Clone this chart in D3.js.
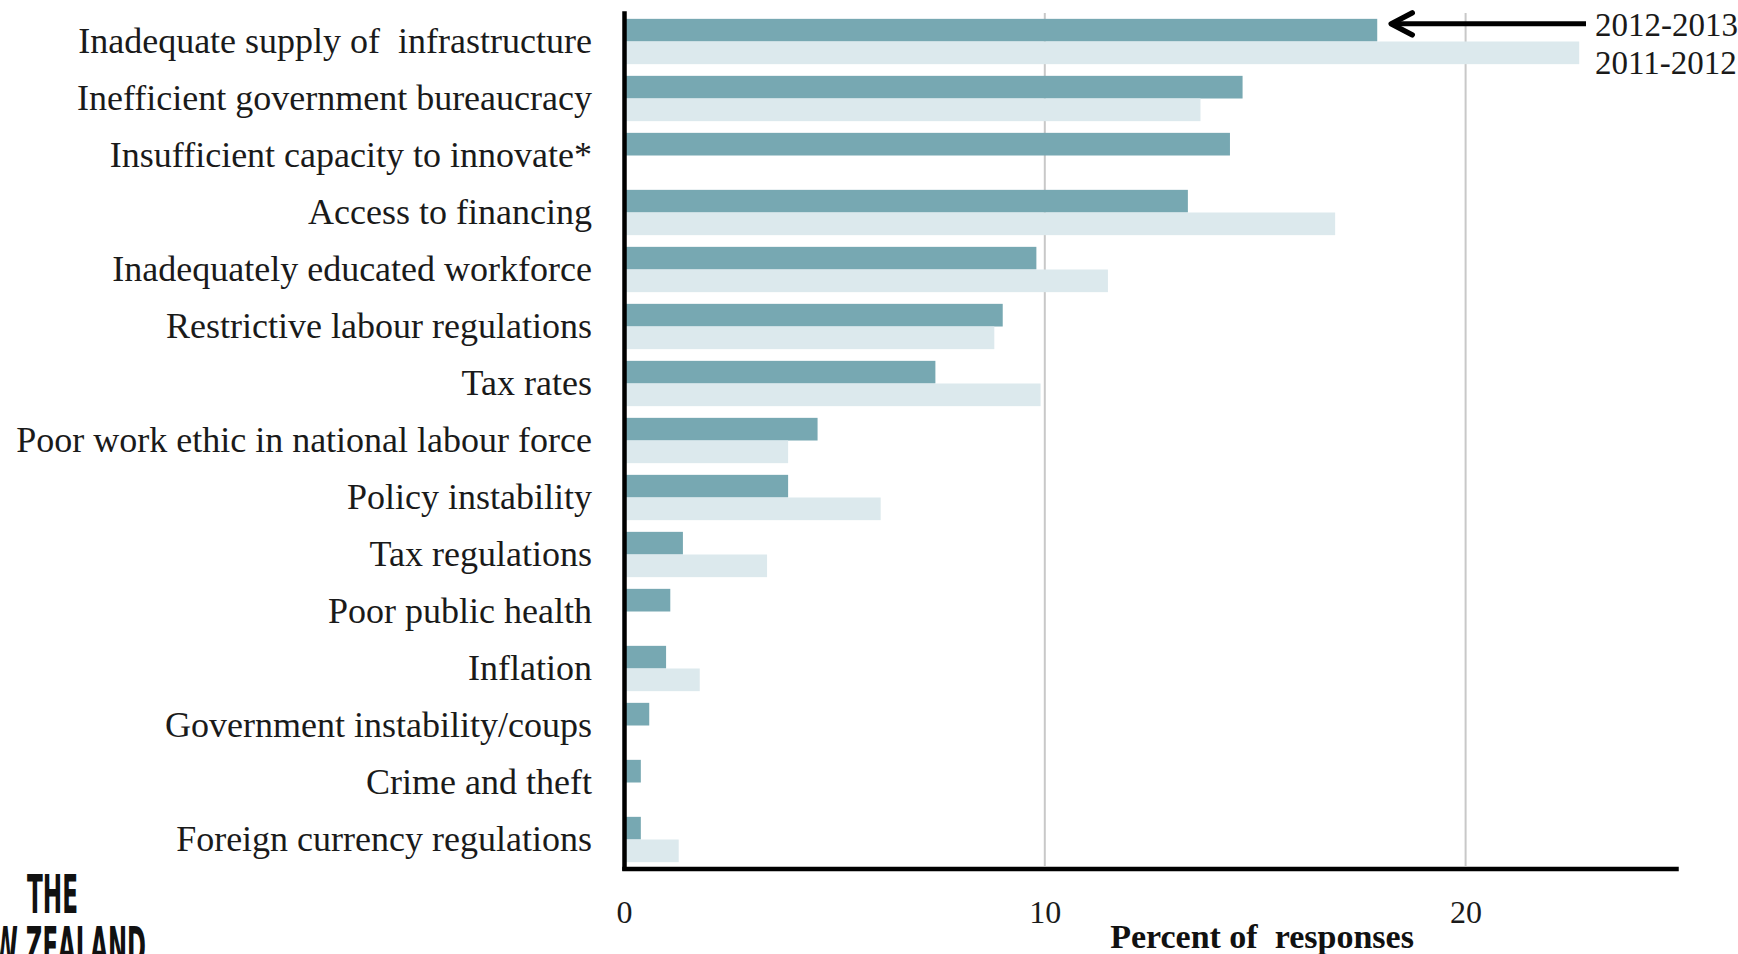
<!DOCTYPE html>
<html>
<head>
<meta charset="utf-8">
<script src="https://cdn.jsdelivr.net/npm/d3@7"></script>
<style>
  html, body { margin: 0; padding: 0; background: #ffffff; }
  svg { display: block; }
</style>
</head>
<body>
<svg id="chart" width="1738" height="954"></svg>
<script>
// Most problematic factors for doing business (percent of responses)
const categories = [
  "Inadequate supply of  infrastructure",
  "Inefficient government bureaucracy",
  "Insufficient capacity to innovate*",
  "Access to financing",
  "Inadequately educated workforce",
  "Restrictive labour regulations",
  "Tax rates",
  "Poor work ethic in national labour force",
  "Policy instability",
  "Tax regulations",
  "Poor public health",
  "Inflation",
  "Government instability/coups",
  "Crime and theft",
  "Foreign currency regulations"
];
const seriesNames = ["2012-2013", "2011-2012"];
const values2013 = [17.9, 14.7, 14.4, 13.4, 9.8, 9.0, 7.4, 4.6, 3.9, 1.4, 1.1, 1.0, 0.6, 0.4, 0.4];
const values2012 = [22.7, 13.7, null, 16.9, 11.5, 8.8, 9.9, 3.9, 6.1, 3.4, null, 1.8, null, null, 1.3];
const xTicks = [0, 10, 20];
const xMax = 25;
const xTitle = "Percent of  responses";

const svg = d3.select("#chart");
const serif = "'Liberation Serif', 'DejaVu Serif', serif";
const colors = { "2012-2013": "#77a8b2", "2011-2012": "#dce9ed" };

const x = d3.scaleLinear().domain([0, xMax]).range([624, 1676]);
const y = d3.scaleBand().domain(categories).range([13, 868])
  .paddingInner(0.205).paddingOuter(0.1025);
const ySub = d3.scaleBand().domain(seriesNames).range([0, y.bandwidth()]);

// vertical gridlines
svg.append("g").selectAll("line")
  .data(xTicks.filter(d => d > 0))
  .join("line")
  .attr("x1", d => x(d)).attr("x2", d => x(d))
  .attr("y1", 13).attr("y2", 866)
  .attr("stroke", "#c8c8c8").attr("stroke-width", 2);

// bars
const rows = categories.map((c, i) => ({
  category: c,
  values: [
    { series: seriesNames[0], value: values2013[i] },
    { series: seriesNames[1], value: values2012[i] }
  ].filter(v => v.value !== null)
}));

svg.append("g").selectAll("g")
  .data(rows)
  .join("g")
  .attr("transform", d => `translate(0,${y(d.category)})`)
  .selectAll("rect")
  .data(d => d.values)
  .join("rect")
  .attr("x", x(0))
  .attr("y", d => ySub(d.series))
  .attr("width", d => x(d.value) - x(0))
  .attr("height", ySub.bandwidth())
  .attr("fill", d => colors[d.series]);

// category axis
const yAxis = svg.append("g")
  .attr("transform", `translate(${x(0)},0)`)
  .call(d3.axisLeft(y).tickSize(0).tickPadding(32));
yAxis.select(".domain")
  .attr("stroke", "#000").attr("stroke-width", 4.5).attr("stroke-linecap", "square");
yAxis.selectAll("text")
  .attr("font-family", serif).attr("font-size", 36).attr("fill", "#1a1a1a")
  .attr("dy", "0.31em")
  .style("white-space", "pre");

// value axis
const xAxis = svg.append("g")
  .attr("transform", "translate(0,868.5)")
  .call(d3.axisBottom(x).tickValues(xTicks).tickFormat(d3.format("d"))
    .tickSizeInner(0).tickSizeOuter(0).tickPadding(32));
xAxis.select(".domain")
  .attr("stroke", "#000").attr("stroke-width", 4.5).attr("stroke-linecap", "square");
xAxis.selectAll("text")
  .attr("font-family", serif).attr("font-size", 32).attr("fill", "#1a1a1a");

svg.append("text")
  .attr("x", 1262).attr("y", 948)
  .attr("text-anchor", "middle")
  .attr("font-family", serif).attr("font-size", 34).attr("font-weight", "bold")
  .attr("fill", "#111")
  .style("white-space", "pre")
  .text(xTitle);

// series key with pointer to the first 2012-2013 bar
const arrowY = y(categories[0]) + ySub(seriesNames[0]) + 5;
const tipX = x(values2013[0]) + 14;
const key = svg.append("g");
key.append("line")
  .attr("x1", tipX + 2).attr("x2", 1586)
  .attr("y1", arrowY).attr("y2", arrowY)
  .attr("stroke", "#000").attr("stroke-width", 5);
key.append("path")
  .attr("d", `M${tipX + 21},${arrowY - 11}L${tipX},${arrowY}L${tipX + 21},${arrowY + 11}`)
  .attr("fill", "none").attr("stroke", "#000").attr("stroke-width", 5.5)
  .attr("stroke-linecap", "round").attr("stroke-linejoin", "round");
key.selectAll("text")
  .data(seriesNames)
  .join("text")
  .attr("x", 1595)
  .attr("y", (d, i) => 36 + i * 38)
  .attr("font-family", serif).attr("font-size", 33).attr("fill", "#1a1a1a")
  .text(d => d);

// masthead
const logo = svg.append("g").attr("fill", "#111")
  .attr("font-family", "'DejaVu Sans Condensed', 'DejaVu Sans', sans-serif")
  .attr("font-weight", "bold");
logo.append("text")
  .attr("x", 27).attr("y", 913)
  .attr("font-size", 54)
  .attr("textLength", 51).attr("lengthAdjust", "spacingAndGlyphs")
  .text("THE");
logo.append("text")
  .attr("x", -42).attr("y", 965)
  .attr("font-size", 54)
  .attr("textLength", 188).attr("lengthAdjust", "spacingAndGlyphs")
  .text("NEW ZEALAND");
</script>
</body>
</html>
